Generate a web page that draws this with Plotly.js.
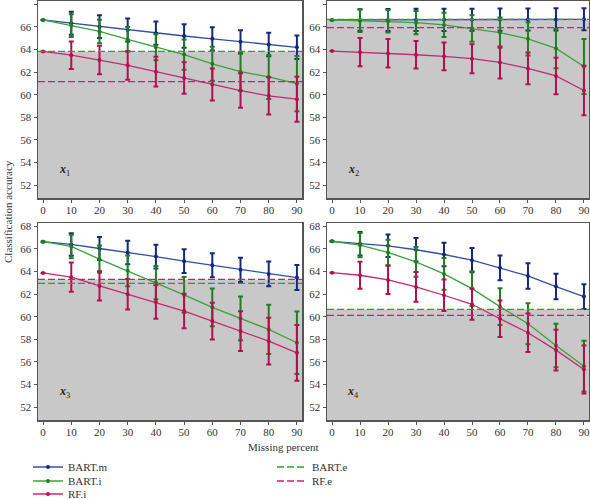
<!DOCTYPE html>
<html><head><meta charset="utf-8">
<script src="https://cdn.plot.ly/plotly-3.0.1.min.js"></script>
<style>html,body{margin:0;padding:0;background:#fff}#chart{width:590px;height:499px}</style>
</head><body><div id="chart"></div>
<script>
const missing = [0,10,20,30,40,50,60,70,80,90];
const panelLabels = ['<i><b>x</b></i><sub>1</sub>','<i><b>x</b></i><sub>2</sub>','<i><b>x</b></i><sub>3</sub>','<i><b>x</b></i><sub>4</sub>'];
const seriesNames = ['BART.m','BART.i','RF.i'];
const benchNames = ['BART.e','RF.e'];

// Panel x1
const x1_bartm = [66.62,66.33,66.03,65.74,65.45,65.20,64.95,64.68,64.45,64.20];
const x1_bartm_err = [null,1.02,1.00,1.02,1.03,1.03,1.03,1.04,1.04,1.04];
const x1_barti = [66.62,66.12,65.60,64.90,64.20,63.55,62.74,62.04,61.57,60.98];
const x1_barti_err = [null,1.00,1.04,1.10,1.15,1.33,1.50,1.70,1.95,2.45];
const x1_rfi = [63.83,63.50,63.07,62.60,62.04,61.48,60.90,60.37,59.90,59.60];
const x1_rfi_err = [null,1.22,1.26,1.28,1.32,1.40,1.41,1.52,1.65,2.00];
const x1_bench = [63.83,61.16];

// Panel x2
const x2_bartm = [66.62,66.62,66.62,66.63,66.63,66.64,66.65,66.66,66.67,66.68];
const x2_bartm_err = [null,0.95,0.98,0.98,0.98,0.98,0.98,0.98,0.98,0.98];
const x2_barti = [66.62,66.55,66.50,66.38,66.18,65.86,65.50,64.95,64.10,62.50];
const x2_barti_err = [null,1.00,1.00,1.03,1.07,1.17,1.33,1.47,1.75,2.44];
const x2_rfi = [63.86,63.77,63.68,63.54,63.40,63.19,62.86,62.33,61.66,60.37];
const x2_rfi_err = [null,1.25,1.26,1.22,1.23,1.28,1.42,1.41,1.61,2.20];
const x2_bench = [66.68,65.94];

// Panel x3
const x3_bartm = [66.65,66.40,66.04,65.69,65.33,64.92,64.56,64.15,63.79,63.47];
const x3_bartm_err = [null,1.00,1.02,1.04,1.05,1.05,1.06,1.08,1.10,1.10];
const x3_barti = [66.65,66.22,65.10,64.06,63.02,61.93,60.83,59.85,58.87,57.69];
const x3_barti_err = [null,1.04,1.21,1.36,1.48,1.58,1.67,1.93,2.18,2.77];
const x3_rfi = [63.88,63.50,62.73,61.99,61.30,60.50,59.61,58.73,57.84,56.80];
const x3_rfi_err = [null,1.30,1.29,1.36,1.48,1.53,1.63,1.76,2.07,2.47];
const x3_bench = [62.95,63.30];

// Panel x4
const x4_bartm = [66.68,66.46,66.28,65.93,65.51,65.01,64.33,63.61,62.67,61.78];
const x4_bartm_err = [null,1.04,1.00,1.04,1.03,1.08,1.10,1.13,1.13,1.10];
const x4_barti = [66.68,66.34,65.69,64.86,63.79,62.49,60.89,59.38,57.45,55.62];
const x4_barti_err = [null,1.08,1.13,1.32,1.41,1.54,1.63,1.81,1.93,2.24];
const x4_rfi = [63.90,63.67,63.26,62.64,61.90,61.10,59.82,58.58,57.04,55.32];
const x4_rfi_err = [null,1.19,1.26,1.32,1.39,1.38,1.61,1.70,1.81,2.12];
const x4_bench = [60.65,60.12];

const yTicks = [52,54,56,58,60,62,64,66,68];

const panels = [
  {vals:[x1_bartm,x1_barti,x1_rfi], errs:[x1_bartm_err,x1_barti_err,x1_rfi_err], bench:x1_bench},
  {vals:[x2_bartm,x2_barti,x2_rfi], errs:[x2_bartm_err,x2_barti_err,x2_rfi_err], bench:x2_bench},
  {vals:[x3_bartm,x3_barti,x3_rfi], errs:[x3_bartm_err,x3_barti_err,x3_rfi_err], bench:x3_bench},
  {vals:[x4_bartm,x4_barti,x4_rfi], errs:[x4_bartm_err,x4_barti_err,x4_rfi_err], bench:x4_bench}
];

const lineColors = ['#2f4fa6','#3aa23a','#c8286e'];
const barColors = ['#16287a','#1f7f1f','#b3104f'];
const benchColors = ['#2e9e2e','#c2266a'];
const serif = 'Liberation Serif, Times New Roman, serif';

const W = 590, H = 499;
const xDomains = [[38/W, 302/W],[327/W, 589/W],[38/W, 302/W],[327/W, 589/W]];
const yDomains = [[1-198/H, 1-1/H],[1-198/H, 1-1/H],[1-420/H, 1-223/H],[1-420/H, 1-223/H]];
const yRange = [50.85, 68.3];
const xRange = [-1.8, 91.8];

const seriesLegend = ['legend','legend3','legend5'];
const benchLegend = ['legend2','legend4'];

const traces = [];
const shapes = [];
const annotations = [];
const layout = {
  width: W, height: H,
  margin: {l:0, r:0, t:0, b:0, autoexpand:false},
  paper_bgcolor: '#ffffff', plot_bgcolor: '#ffffff',
  font: {family: serif, size: 11, color: '#333'},
  showlegend: true
};

panels.forEach((p, i) => {
  const n = i + 1;
  const xa = 'x' + (n === 1 ? '' : n), ya = 'y' + (n === 1 ? '' : n);
  const xKey = 'xaxis' + (n === 1 ? '' : n), yKey = 'yaxis' + (n === 1 ? '' : n);
  layout[xKey] = {
    domain: xDomains[i], range: xRange, anchor: ya,
    tickvals: missing, ticks: 'outside', ticklen: 3, tickwidth: 1, tickcolor: '#555',
    ticklabelstandoff: -2,
    showline: true, mirror: true, linecolor: '#555', linewidth: 1.5,
    showgrid: false, zeroline: false, tickfont: {family: serif, size: 11, color: '#333'}
  };
  layout[yKey] = {
    domain: yDomains[i], range: yRange, anchor: xa,
    tickvals: yTicks, ticks: 'outside', ticklen: 3, tickwidth: 1, tickcolor: '#555',
    showline: true, mirror: true, linecolor: '#555', linewidth: 1.5,
    showgrid: false, zeroline: false, tickfont: {family: serif, size: 11, color: '#333'}
  };
  // grey region below the best benchmark
  shapes.push({
    type: 'rect', layer: 'below', xref: xa + ' domain', yref: ya,
    x0: 0, x1: 1, y0: yRange[0], y1: Math.max(p.bench[0], p.bench[1]),
    fillcolor: '#c8c8c8', line: {width: 0}
  });
  // benchmark dashed lines
  p.bench.forEach((b, k) => {
    shapes.push({
      type: 'line', layer: 'above', xref: xa + ' domain', yref: ya,
      x0: 0, x1: 1, y0: b, y1: b,
      line: {color: benchColors[k], width: 1.3, dash: '7px,3px'},
      name: benchNames[k], showlegend: i === 0, legend: benchLegend[k]
    });
  });
  // series
  p.vals.forEach((v, k) => {
    traces.push({
      type: 'scatter', mode: 'lines+markers', x: missing, y: v,
      xaxis: xa, yaxis: ya, name: seriesNames[k], legendgroup: seriesNames[k],
      showlegend: i === 0, legend: seriesLegend[k],
      line: {color: lineColors[k], width: 1.3},
      marker: {color: barColors[k], size: 4},
      error_y: {type: 'data', array: p.errs[k], visible: true, color: barColors[k], thickness: 2, width: 2.5}
    });
  });
  annotations.push({
    xref: xa, yref: ya, x: 7.5, y: 53.3, text: panelLabels[i], showarrow: false,
    xanchor: 'center', yanchor: 'middle',
    font: {family: serif, size: 12, color: '#222'}
  });
});

annotations.push({
  xref: 'paper', yref: 'paper', x: 8/W, y: 1-212/H, text: 'Classification accuracy',
  xanchor: 'center', yanchor: 'middle',
  textangle: -90, showarrow: false, font: {family: serif, size: 11, color: '#333'}
});
annotations.push({
  xref: 'paper', yref: 'paper', x: 283/W, y: 1-447/H, text: 'Missing percent',
  xanchor: 'center', yanchor: 'middle',
  showarrow: false, font: {family: serif, size: 11, color: '#333'}
});

const legBase = {bgcolor: 'rgba(0,0,0,0)', borderwidth: 0, xanchor: 'left', yanchor: 'middle',
  orientation: 'v', font: {family: serif, size: 11, color: '#333'}, itemwidth: 30};
layout.legend = Object.assign({}, legBase, {x: 28/W, y: 1-467/H});
layout.legend3 = Object.assign({}, legBase, {x: 28/W, y: 1-481/H});
layout.legend5 = Object.assign({}, legBase, {x: 28/W, y: 1-494/H});
layout.legend2 = Object.assign({}, legBase, {x: 272/W, y: 1-467/H});
layout.legend4 = Object.assign({}, legBase, {x: 272/W, y: 1-481/H});

layout.shapes = shapes;
layout.annotations = annotations;

Plotly.newPlot('chart', traces, layout, {displayModeBar: false, staticPlot: true});
</script>
</body></html>
